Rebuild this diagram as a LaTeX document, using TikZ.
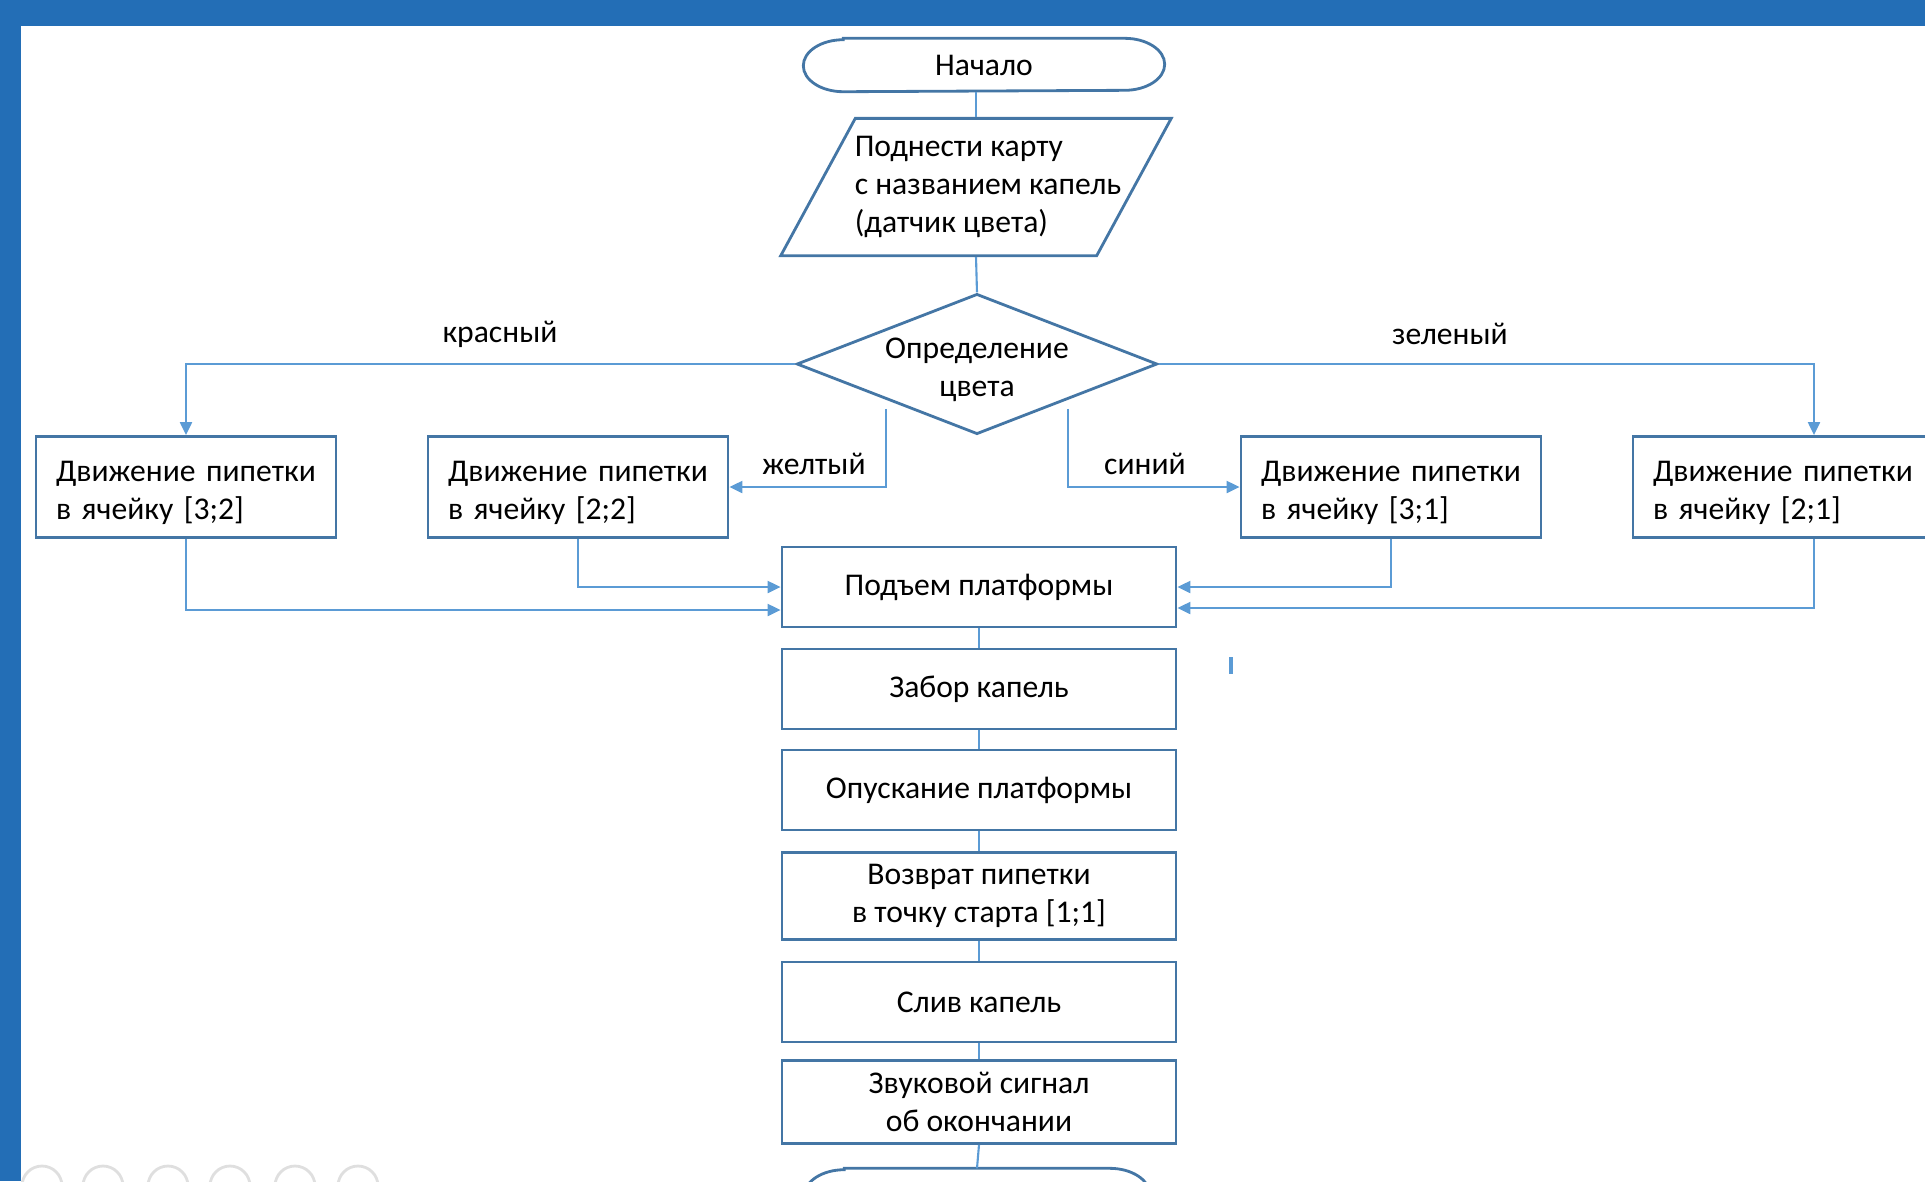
\documentclass[tikz,border=0pt]{standalone}
\usepackage{fontspec}
\setmainfont{Carlito}
\usetikzlibrary{arrows.meta,calc,positioning,shapes}

\definecolor{linecol}{RGB}{91,155,213}
\definecolor{boxcol}{RGB}{68,118,165}
\definecolor{bandcol}{RGB}{35,110,182}

% text set a little lower than the node's centre
\newcommand{\sunk}[2][l]{\raisebox{-0.6mm}[\height][\depth]{\begin{tabular}{@{}#1@{}}#2\end{tabular}}}

\begin{document}
\begin{tikzpicture}[x=0.1mm,y=-0.1mm,
    every node/.style={font=\fontsize{9}{10.8}\selectfont},
    term/.style={minimum width=3.6cm,minimum height=0.52cm},
    io/.style={draw=boxcol,trapezium,trapezium left angle=61.5,trapezium right angle=118.5,
      trapezium stretches=true,minimum height=1.34cm,inner xsep=-1.25mm,line width=0.8pt},
    decision/.style={draw=boxcol,diamond,aspect=2.57,minimum width=3.6cm,minimum height=1.4cm,
      inner xsep=-0.9mm,inner ysep=0pt,line width=0.8pt},
    move/.style={draw=boxcol,text width=2.6cm,align=left,inner xsep=0.2cm,minimum height=1.01cm,line width=0.8pt},
    proc/.style={draw=boxcol,minimum width=3.94cm,minimum height=0.8cm,align=center,line width=0.8pt},
    link/.style={draw=linecol,line width=0.6pt},
    flow/.style={link,-{Triangle[length=1.3mm,width=1.2mm]}}]

  \useasboundingbox (0,0) rectangle (1925,1181);
  \clip (0,0) rectangle (1925,1181);

  % slide frame
  \fill[bandcol] (0,0) rectangle (1925,26);
  \fill[bandcol] (0,0) rectangle (21,1181);

  \node[term] (start) at (984,65) {Начало};
  \node[io] (card) at (976,187)
    {\kern1.2mm\begin{tabular}{@{}l@{}}Поднести карту\\с названием капель\\(датчик цвета)\end{tabular}\kern-1.2mm};
  \node[decision] (dec) at (977,364) {\sunk[c]{Определение\\цвета}};

  \node[move] (r32) at (186,487) {\sunk{Движение пипетки\\в ячейку [3;2]}};
  \node[move] (r22) at (578,487) {\sunk{Движение пипетки\\в ячейку [2;2]}};
  \node[move] (r31) at (1391,487) {\sunk{Движение пипетки\\в ячейку [3;1]}};
  \node[move,text width=3.22cm] (r21) at (1814,487) {\sunk{Движение пипетки\\в ячейку [2;1]}};

  \node (lblred) at (500,334) {красный};
  \node (lblgreen) at (1450,334) {зеленый};
  \node (lblyellow) at (814,464) {желтый};
  \node (lblblue) at (1145,464) {синий};

  \node[proc] (lift) at (979,587) {Подъем платформы};
  \node[proc] (grab) at (979,689) {Забор капель};
  \node[proc] (lower) at (979,790) {Опускание платформы};
  \node[proc] (back) at (979,896) {Возврат пипетки\\в точку старта [1;1]};
  \node[proc] (drain) at (979,1002) {Слив капель};
  \node[proc] (beep) at (979,1102) {Звуковой сигнал\\об окончании};
  \node[term,minimum width=3.44cm] (end) at (977,1195) {};

  % terminator outlines
  \foreach \t in {start,end}
    \draw[boxcol,line width=0.8pt] ([xshift=4mm]\t.north west) -- ([xshift=-4mm]\t.north east)
      arc[start angle=90,end angle=-90,x radius=4mm,y radius=2.6mm]
      -- ([xshift=4mm]\t.south west)
      arc[start angle=270,end angle=90,x radius=4mm,y radius=2.6mm] -- cycle;

  \draw[link] (card.north |- start.south) -- (card.north);
  \draw[link] (card.south) -- (dec.north);

  % branches
  \draw[flow] (dec.west) -| (r32.north);
  \draw[flow] (dec.east) -| (r21.north);
  \draw[flow] ([yshift=-0.9mm]dec.south west) |- (r22.east);
  \draw[flow] ([yshift=-0.9mm]dec.south east) |- (r31.west);

  \draw[flow] (r22.south) |- (lift.west);
  \draw[flow] (r32.south) |- ([yshift=-2.3mm]lift.west);
  \draw[flow] (r31.south) |- (lift.east);
  \draw[flow] (r21.south) |- ([yshift=-2.1mm]lift.east);

  \foreach \a/\b in {lift/grab,grab/lower,lower/back,back/drain,drain/beep,beep/end}
    \draw[link] (\a.south) -- (\b.north);

  % cursor and slide show buttons
  \draw[linecol,line width=1pt] (1231,657) -- (1231,674);
  \foreach \x in {42,103,168,230,295,358}
    \draw[gray!25,line width=0.8pt] (\x,1186) circle (2mm);
\end{tikzpicture}
\end{document}
